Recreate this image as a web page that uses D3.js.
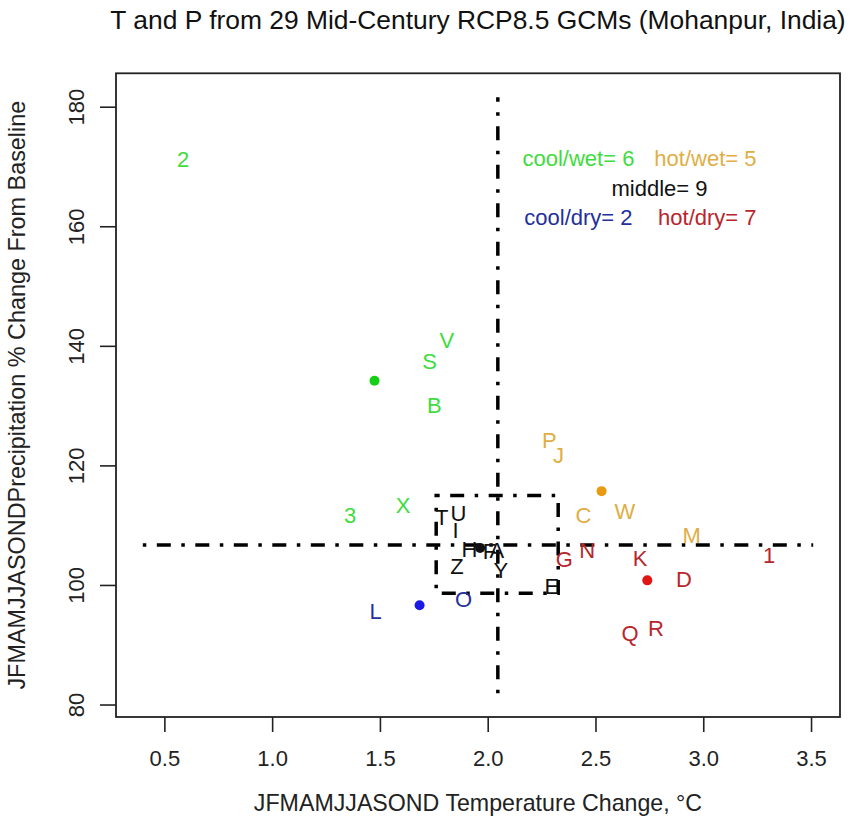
<!DOCTYPE html>
<html>
<head>
<meta charset="utf-8">
<script src="https://cdn.jsdelivr.net/npm/d3@7"></script>
<style>
  body { margin: 0; background: #fff; }
  text { font-family: "Liberation Sans", Arial, sans-serif; }
</style>
</head>
<body>
<div id="area"></div>
<script>
// models, temperature change (degC) and precipitation change (%)
var models = ["2", "V", "S", "B", "3", "X",
              "P", "J", "C", "W", "M",
              "T", "U", "I", "H", "F", "A", "Z", "Y", "E",
              "L", "O",
              "G", "N", "K", "D", "1", "Q", "R"];
var tempChange = [0.587, 1.811, 1.730, 1.752, 1.362, 1.607,
                  2.286, 2.328, 2.444, 2.637, 2.946,
                  1.787, 1.864, 1.851, 1.915, 2.008, 2.042, 1.857, 2.061, 2.297,
                  1.480, 1.888,
                  2.356, 2.462, 2.707, 2.911, 3.306, 2.660, 2.781];
var precipChange = [171.2, 141.0, 137.5, 130.1, 111.7, 113.4,
                    124.3, 121.75, 111.7, 112.3, 108.4,
                    111.4, 112.0, 109.2, 106.0, 105.75, 105.9, 103.2, 102.5, 99.85,
                    95.6, 97.6,
                    104.3, 105.9, 104.5, 101.0, 105.0, 91.9, 92.8];
var groups = ["cool/wet", "cool/wet", "cool/wet", "cool/wet", "cool/wet", "cool/wet",
              "hot/wet", "hot/wet", "hot/wet", "hot/wet", "hot/wet",
              "middle", "middle", "middle", "middle", "middle", "middle", "middle", "middle", "middle",
              "cool/dry", "cool/dry",
              "hot/dry", "hot/dry", "hot/dry", "hot/dry", "hot/dry", "hot/dry", "hot/dry"];

// median split lines and middle box
var medianT = 2.047, medianP = 106.7;
var hLineT = [0.40, 3.51];
var vLineP = [81.9, 181.6];
var boxT = [1.761, 2.327];
var boxP = [98.63, 114.95];

var xTicks = [0.5, 1.0, 1.5, 2.0, 2.5, 3.0, 3.5];
var yTicks = [80, 100, 120, 140, 160, 180];

// legend layout: [group, x, y] in data units
var legendRows = [["cool/wet", 2.421, 171.4], ["hot/wet", 3.010, 171.4],
                  ["middle", 2.797, 166.4],
                  ["cool/dry", 2.421, 161.6], ["hot/dry", 3.019, 161.6]];

var textColor = {"cool/wet": "#3fdc3f", "hot/wet": "#dfae45", "middle": "#111",
                 "cool/dry": "#23309a", "hot/dry": "#b7262c"};
var dotColor = {"cool/wet": "#14d014", "hot/wet": "#e89a10", "middle": "#111",
                "cool/dry": "#1a1ae6", "hot/dry": "#e21515"};

var W = 851, H = 830;
var plot = {left: 116, right: 840, top: 73.3, bottom: 717};

var svg = d3.select('#area').append('svg')
            .attr('width', W)
            .attr('height', H);

// R style 4% axis extension
var xr = d3.extent(hLineT.concat(tempChange)), yr = d3.extent(vLineP.concat(precipChange));
var xpad = (xr[1] - xr[0]) * 0.04, ypad = (yr[1] - yr[0]) * 0.04;

var x = d3.scaleLinear()
          .domain([xr[0] - xpad, xr[1] + xpad])
          .range([plot.left, plot.right]);
var y = d3.scaleLinear()
          .domain([yr[0] - ypad, yr[1] + ypad])
          .range([plot.bottom, plot.top]);

var xAxis = d3.axisBottom(x).tickValues(xTicks).tickFormat(d3.format('.1f'))
              .tickSizeInner(15).tickSizeOuter(0).tickPadding(18);
var yAxis = d3.axisLeft(y).tickValues(yTicks).tickFormat(d3.format('d'))
              .tickSizeInner(16).tickSizeOuter(0);

var gx = svg.append('g')
            .attr('transform', 'translate(0,' + plot.bottom + ')')
            .call(xAxis);
gx.select('.domain').remove();
gx.selectAll('line').attr('stroke', '#222').attr('stroke-width', 1.6);
gx.selectAll('text').attr('font-size', 22).attr('fill', '#222').attr('dy', '0.71em')
  .attr('y', 33);

var gy = svg.append('g')
            .attr('transform', 'translate(' + plot.left + ',0)')
            .call(yAxis);
gy.select('.domain').remove();
gy.selectAll('line').attr('stroke', '#222').attr('stroke-width', 1.6);
gy.selectAll('text')
  .attr('font-size', 22).attr('fill', '#222')
  .attr('x', null).attr('dy', null)
  .attr('text-anchor', 'middle')
  .attr('transform', 'translate(-32,0) rotate(-90)');

// plot frame
svg.append('rect')
   .attr('x', plot.left).attr('y', plot.top)
   .attr('width', plot.right - plot.left).attr('height', plot.bottom - plot.top)
   .attr('fill', 'none').attr('stroke', '#222').attr('stroke-width', 1.8);

// dot-dash lines
var dash = '3.5,10.5,14,10.5';
svg.append('line')
   .attr('x1', x(hLineT[0])).attr('x2', x(hLineT[1]))
   .attr('y1', y(medianP)).attr('y2', y(medianP))
   .attr('stroke', '#000').attr('stroke-width', 3.5).attr('stroke-dasharray', dash);
svg.append('line')
   .attr('x1', x(medianT)).attr('x2', x(medianT))
   .attr('y1', y(vLineP[0])).attr('y2', y(vLineP[1]))
   .attr('stroke', '#000').attr('stroke-width', 3.5).attr('stroke-dasharray', dash);
svg.append('rect')
   .attr('x', x(boxT[0])).attr('y', y(boxP[1]))
   .attr('width', x(boxT[1]) - x(boxT[0])).attr('height', y(boxP[0]) - y(boxP[1]))
   .attr('fill', 'none')
   .attr('stroke', '#000').attr('stroke-width', 3.5).attr('stroke-dasharray', dash);

// model labels
var pts = models.map(function(m, i) {
  return {name: m, t: tempChange[i], p: precipChange[i], g: groups[i]};
});
svg.append('g').selectAll('text')
   .data(pts).enter().append('text')
   .attr('x', function(d) { return x(d.t); })
   .attr('y', function(d) { return y(d.p); })
   .attr('dy', '0.36em')
   .attr('text-anchor', 'middle')
   .attr('font-size', 22)
   .attr('fill', function(d) { return textColor[d.g]; })
   .text(function(d) { return d.name; });

// group means
var means = d3.rollups(pts, function(v) {
  return {t: d3.mean(v, function(d) { return d.t; }), p: d3.mean(v, function(d) { return d.p; }), n: v.length};
}, function(d) { return d.g; });
svg.append('g').selectAll('circle')
   .data(means).enter().append('circle')
   .attr('cx', function(d) { return x(d[1].t); })
   .attr('cy', function(d) { return y(d[1].p); })
   .attr('r', 5)
   .attr('fill', function(d) { return dotColor[d[0]]; });

// legend counts
var counts = new Map(means.map(function(d) { return [d[0], d[1].n]; }));
svg.append('g').selectAll('text')
   .data(legendRows).enter().append('text')
   .attr('x', function(d) { return x(d[1]); })
   .attr('y', function(d) { return y(d[2]); })
   .attr('dy', '0.36em')
   .attr('text-anchor', 'middle')
   .attr('font-size', 22)
   .attr('fill', function(d) { return textColor[d[0]]; })
   .text(function(d) { return d[0] + '= ' + counts.get(d[0]); });

// titles
svg.append('text')
   .attr('x', (plot.left + plot.right) / 2).attr('y', 29)
   .attr('text-anchor', 'middle').attr('font-size', 26.4).attr('fill', '#111')
   .text('T and P from 29 Mid-Century RCP8.5 GCMs (Mohanpur, India)');
svg.append('text')
   .attr('x', (plot.left + plot.right) / 2).attr('y', 811)
   .attr('text-anchor', 'middle').attr('font-size', 23.2).attr('fill', '#222')
   .text('JFMAMJJASOND Temperature Change, \u00B0C');
svg.append('text')
   .attr('transform', 'translate(25,' + (plot.top + plot.bottom) / 2 + ') rotate(-90)')
   .attr('text-anchor', 'middle').attr('font-size', 23.4).attr('fill', '#222')
   .text('JFMAMJJASONDPrecipitation % Change From Baseline');
</script>
</body>
</html>
